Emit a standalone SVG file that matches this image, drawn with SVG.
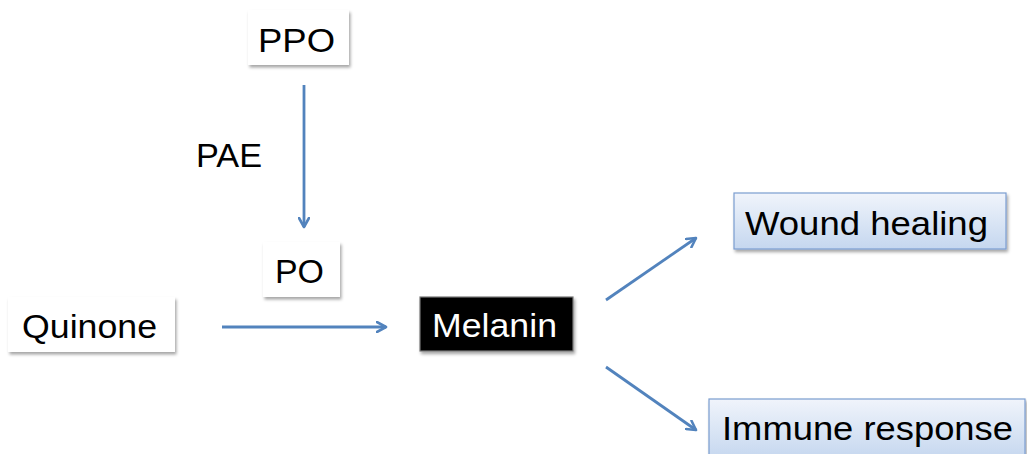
<svg xmlns="http://www.w3.org/2000/svg" width="1027" height="454" viewBox="0 0 1027 454">
<style>
text{font-family:"Liberation Sans",Arial,sans-serif;font-size:34px;fill:#000}
.box{fill:#fff;filter:url(#sh)}
.blue{fill:url(#bg);stroke:#7b9dd0;stroke-width:1.2;filter:url(#sh)}
.conn{stroke:#5283bd;stroke-width:2.8;fill:none;marker-end:url(#ah)}
</style>
<defs>
<filter id="sh" x="-10%" y="-20%" width="130%" height="160%">
<feDropShadow dx="1.5" dy="2.5" stdDeviation="1.5" flood-color="#000" flood-opacity="0.35"/>
</filter>
<linearGradient id="bg" x1="0" y1="0" x2="0" y2="1">
<stop offset="0" stop-color="#f0f4fb"/>
<stop offset="1" stop-color="#c5d7ef"/>
</linearGradient>
<marker id="ah" viewBox="0 0 12 12" refX="10" refY="6" markerWidth="12" markerHeight="12" markerUnits="userSpaceOnUse" orient="auto">
<path d="M1,1 L10,6 L1,11" fill="none" stroke="#5283bd" stroke-width="2.6" stroke-linecap="round" stroke-linejoin="round"/>
</marker>
</defs>
<g id="connectors">
<line class="conn" x1="304" y1="85" x2="304" y2="227"/>
<line class="conn" x1="222" y1="327" x2="386" y2="327"/>
<line class="conn" x1="606" y1="300" x2="696" y2="238"/>
<line class="conn" x1="606" y1="367" x2="696" y2="430"/>
</g>
<g id="ppo">
<rect class="box" x="248" y="10" width="101" height="55"/>
<text x="258" y="52" textLength="77" lengthAdjust="spacingAndGlyphs">PPO</text>
</g>
<g id="pae">
<text x="196" y="167" textLength="66" lengthAdjust="spacingAndGlyphs">PAE</text>
</g>
<g id="po">
<rect class="box" x="263" y="242" width="77" height="55"/>
<text x="275" y="283" textLength="49" lengthAdjust="spacingAndGlyphs">PO</text>
</g>
<g id="quinone">
<rect class="box" x="8" y="297" width="167" height="55"/>
<text x="22" y="338" textLength="135" lengthAdjust="spacingAndGlyphs">Quinone</text>
</g>
<g id="melanin">
<rect x="420" y="297" width="153" height="54" fill="#000" stroke="#777" stroke-width="1.2" filter="url(#sh)"/>
<text x="432" y="337" textLength="125" lengthAdjust="spacingAndGlyphs" style="fill:#fff">Melanin</text>
</g>
<g id="wound-healing">
<rect class="blue" x="734" y="193" width="272" height="56"/>
<text x="745" y="235" textLength="243" lengthAdjust="spacingAndGlyphs">Wound healing</text>
</g>
<g id="immune-response">
<rect class="blue" x="709" y="399" width="316" height="60"/>
<text x="722" y="440" textLength="291" lengthAdjust="spacingAndGlyphs">Immune response</text>
</g>
</svg>
